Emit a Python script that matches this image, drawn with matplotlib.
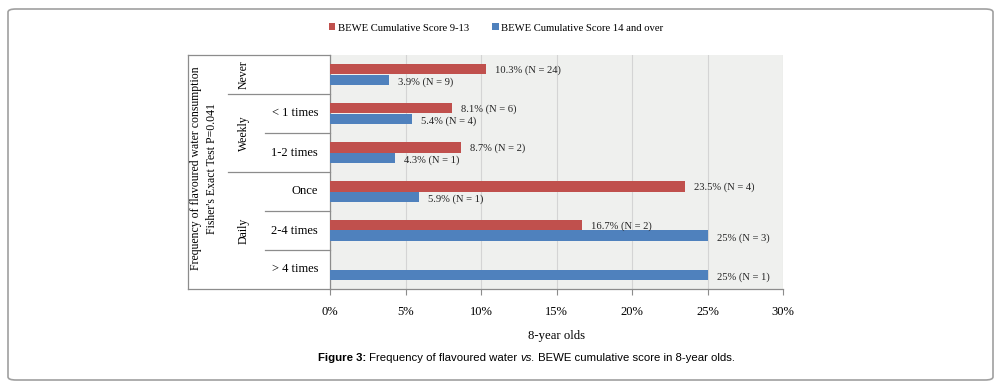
import matplotlib.pyplot as plt
import numpy as np
from matplotlib.patches import FancyBboxPatch, Patch
from matplotlib.lines import Line2D

# data
categories = ["Never", "< 1 times", "1-2 times", "Once", "2-4 times", "> 4 times"]
groups = ["Never", "Weekly", "Daily"]
group_rows = [[0], [1, 2], [3, 4, 5]]
score_9_13 = [10.3, 8.1, 8.7, 23.5, 16.7, np.nan]
n_9_13 = [24, 6, 2, 4, 2, None]
score_14_over = [3.9, 5.4, 4.3, 5.9, 25, 25]
n_14_over = [9, 4, 1, 1, 3, 1]
x_ticks = [0, 5, 10, 15, 20, 25, 30]

RED = "#C0504D"
BLUE = "#4F81BD"
LINE = "#8C8C8C"
SERIF = "Liberation Serif"

W, H = 1001, 387
fig = plt.figure(figsize=(W / 100, H / 100), dpi=100)

# outer rounded frame
frame = FancyBboxPatch((8 / W, 7 / H), 985 / W, 371 / H,
                       boxstyle="round,pad=0,rounding_size=0.008",
                       transform=fig.transFigure, fill=False,
                       edgecolor="#A0A0A0", linewidth=1.2)
fig.patches.append(frame)

left, right, top, bottom = 330, 783, 55, 289
ax = fig.add_axes([left / W, 1 - bottom / H, (right - left) / W, (bottom - top) / H])
ax.set_facecolor("#EFF0EE")

y = np.arange(len(categories))
bh = 0.28
ax.barh(y - bh / 2, score_9_13, height=bh, color=RED, zorder=3)
ax.barh(y + bh / 2, score_14_over, height=bh, color=BLUE, zorder=3)

for i in range(len(categories)):
    if not np.isnan(score_9_13[i]):
        ax.text(score_9_13[i] + 0.6, y[i] - bh / 2 + 0.04,
                f"{score_9_13[i]:g}% (N = {n_9_13[i]})",
                va="center", ha="left", fontsize=7.6, family=SERIF, color="#222222")
    ax.text(score_14_over[i] + 0.6, y[i] + bh / 2 + 0.05,
            f"{score_14_over[i]:g}% (N = {n_14_over[i]})",
            va="center", ha="left", fontsize=7.6, family=SERIF, color="#222222")

ax.set_xlim(0, 30)
ax.set_ylim(len(categories) - 0.5, -0.5)
ax.set_xticks(x_ticks)
ax.set_xticklabels([f"{t}%" for t in x_ticks], family=SERIF, fontsize=9)
ax.set_yticks([])
ax.grid(axis="x", color="#D4D4D4", linewidth=0.8, zorder=0)
ax.tick_params(axis="x", direction="out", length=4, color=LINE, pad=8)
for s in ["top", "right"]:
    ax.spines[s].set_visible(False)
for s in ["left", "bottom"]:
    ax.spines[s].set_color(LINE)
    ax.spines[s].set_linewidth(0.9)
ax.set_xlabel("8-year olds", family=SERIF, fontsize=9.2, labelpad=9)

# left-hand category table
def fx(px):
    return (px - left) / (right - left)

trans = ax.get_yaxis_transform()
tbl = dict(transform=trans, color=LINE, linewidth=0.9, clip_on=False)
ax.add_line(Line2D([fx(188), 0], [-0.5, -0.5], **tbl))
ax.add_line(Line2D([fx(188), 0], [5.5, 5.5], **tbl))
ax.add_line(Line2D([fx(188), fx(188)], [-0.5, 5.5], **tbl))
for rows in group_rows[:-1]:
    ax.add_line(Line2D([fx(228), 0], [rows[-1] + 0.5] * 2, **tbl))
for rows in group_rows:
    for r in rows[:-1]:
        ax.add_line(Line2D([fx(265), 0], [r + 0.5] * 2, **tbl))

for g, rows in zip(groups, group_rows):
    ax.text(fx(244), np.mean(rows), g, transform=trans, rotation=90,
            ha="center", va="center", fontsize=8.5, family=SERIF)
    if len(rows) > 1:
        for r in rows:
            ax.text(fx(318), r, categories[r], transform=trans,
                    ha="right", va="center", fontsize=9, family=SERIF)

ax.text(fx(204), 2.4, "Frequency of flavoured water consumption\nFisher's Exact Test P=0.041",
        transform=trans, rotation=90, ha="center", va="center",
        fontsize=8.5, family=SERIF, linespacing=1.5)

handles = [Patch(facecolor=RED, label="BEWE Cumulative Score 9-13"),
           Patch(facecolor=BLUE, label="BEWE Cumulative Score 14 and over")]
fig.legend(handles=handles, loc="center", bbox_to_anchor=(496 / W, 1 - 28 / H),
           ncol=2, frameon=False, prop={"family": SERIF, "size": 7.7},
           handlelength=0.6, handleheight=0.6, handletextpad=0.2, columnspacing=2.2)

# caption
cap_y = 1 - 358 / H
cap_fs = 8.2
t1 = fig.text(318 / W, cap_y, "Figure 3:", fontsize=cap_fs, weight="bold",
              family="Liberation Sans", va="center", ha="left")
fig.canvas.draw()
r = fig.canvas.get_renderer()
x0 = t1.get_window_extent(r).x1
t2 = fig.text(x0 / W, cap_y, " Frequency of flavoured water ", fontsize=cap_fs,
              family="Liberation Sans", va="center", ha="left")
x0 = t2.get_window_extent(r).x1
t3 = fig.text(x0 / W, cap_y, "vs.", fontsize=cap_fs, style="italic",
              family="Liberation Sans", va="center", ha="left")
x0 = t3.get_window_extent(r).x1
fig.text(x0 / W, cap_y, " BEWE cumulative score in 8-year olds.", fontsize=cap_fs,
         family="Liberation Sans", va="center", ha="left")

fig.savefig("out.png", dpi=100)
